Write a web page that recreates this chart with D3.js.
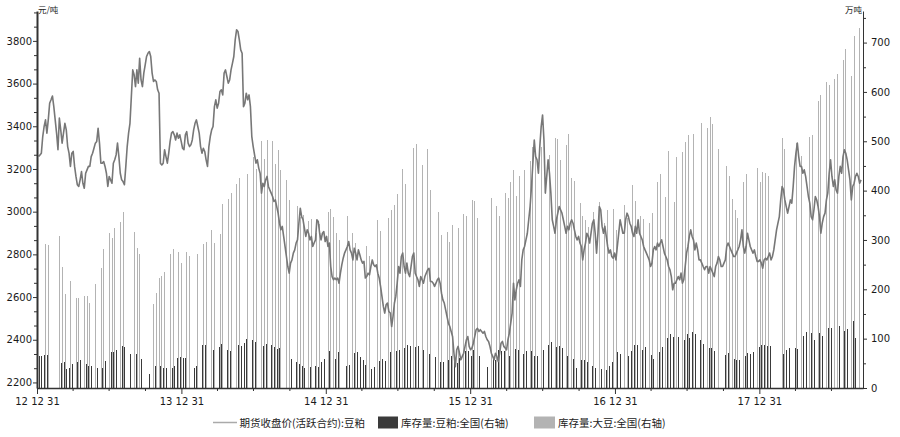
<!DOCTYPE html>
<html><head><meta charset="utf-8">
<script src="https://cdn.jsdelivr.net/npm/d3@7"></script>
<style>body{margin:0;background:#fff}svg{display:block}</style>
</head><body><svg id="c" width="900" height="437"></svg>
<script>
// ---------- data ----------
const xDomain = ["2012-12-31", "2018-09-19"];
const barStart = "2013-01-04";      // week 0
const priceStart = "2013-01-04";    // first close
const priceStepHours = 84;          // two samples per week

const priceValues = [
3258,3266,3274,3352,3399,3430,3368,3430,3508,3524,
3542,3492,3430,3368,3290,3438,3383,3321,3368,3414,
3383,3305,3274,3212,3274,3282,3212,3165,3126,3118,
3149,3188,3133,3110,3180,3196,3212,3212,3258,3274,
3297,3321,3329,3391,3321,3227,3227,3235,3212,3180,
3118,3165,3149,3133,3227,3243,3266,3321,3258,3180,
3149,3141,3126,3212,3305,3368,3414,3539,3664,3641,
3586,3664,3602,3719,3617,3586,3649,3688,3727,3742,
3750,3727,3649,3610,3617,3610,3571,3555,3227,3219,
3227,3290,3258,3227,3274,3329,3368,3375,3360,3336,
3368,3344,3360,3329,3297,3290,3360,3375,3321,3305,
3313,3336,3383,3414,3430,3399,3368,3305,3274,3297,
3282,3243,3212,3305,3352,3383,3399,3492,3524,3485,
3508,3563,3571,3547,3649,3664,3633,3602,3617,3664,
3695,3727,3805,3852,3844,3805,3758,3742,
3492,3508,3555,3524,3547,3492,3352,3305,3266,3227,
3243,3204,3180,3087,3133,3118,3149,3165,3118,3102,
3087,3071,3048,3055,3024,2993,2946,2915,2931,2884,
2837,2790,2743,2712,2759,2774,2806,2821,2853,2868,
2946,3016,2977,2962,2923,
2884,2915,2899,2868,2884,2837,2853,
2868,2962,2954,2899,2868,2899,2907,2860,2884,2837,2853,
2743,2696,2681,2689,2681,2689,2665,2712,2751,2782,2806,2821,2837,2860,2821,2806,2774,2829,2806,2774,2821,2798,2774,
2759,2767,2689,2696,2712,2704,2743,2774,2751,2743,2751,2712,2689,2650,2603,2556,2525,2564,2572,2532,2525,2462,2509,2572,2603,
2665,2743,2712,2790,2806,2743,2712,2759,2712,2696,2743,2790,2806,2712,2696,2681,2650,2696,2681,2665,2696,2712,2728,2735,
2673,2673,2665,2650,2665,2681,2689,2665,2618,2587,2572,2540,2509,2478,2462,2439,2415,
2337,2274,
2353,2369,2337,2306,2322,2337,2369,2400,2415,2369,2353,
2361,2384,2415,2447,2454,2439,2447,2439,2431,2439,2415,2400,2392,2369,2337,2322,2306,
2337,2322,2298,2337,2384,2392,2369,2361,2353,2400,2431,2478,2525,2665,2587,2634,2665,2681,2650,2774,2821,
2837,2868,2899,2962,3024,3118,3227,3336,3258,3243,3180,3305,3399,3453,3336,3087,3165,3243,3180,3087,2962,2931,2899,2962,2993,3024,3009,2993,2962,2931,2899,
2931,2915,2946,2962,2946,2915,2884,2868,2884,
2853,2837,2774,2821,2853,2899,2884,2853,2899,2946,
2962,2899,2806,2899,3024,3009,2931,2899,2931,2884,2837,2806,2821,2790,2782,2806,2774,2837,2899,2962,
2931,2899,2899,2962,2993,2977,2946,2931,2899,2884,2931,2899,2962,2899,2884,2868,2837,2821,2806,2790,
2774,2743,2759,2821,2837,2821,2853,2837,2853,2868,2837,2806,2790,2774,2743,2728,2696,2634,2665,2665,
2681,2696,2681,2712,2665,2681,2743,2806,2837,2884,2915,2884,2868,2821,2853,2821,2774,2774,2759,2743,
2728,2743,2743,2712,2743,2728,2712,2696,2743,2759,2790,2774,2743,2743,2759,2774,2837,2853,2837,2821,2806,
2790,2790,
2806,2821,2837,2868,2915,2837,2806,2837,2899,2868,2837,2821,2806,2821,
2790,2767,2767,2774,2759,2735,2774,2782,2774,2790,2806,2774,2790,2821,2868,2915,2946,2977,3055,3118,
3102,3055,3024,2993,3024,3055,3040,3118,3212,3274,3321,3258,3212,
3212,3180,3196,3165,3118,3071,3040,2977,2962,3009,3071,3055,3024,2977,2899,2946,2977,2993,3055,3087,
3180,3243,3165,3118,3149,3102,3087,
3165,3212,3180,3258,3290,3274,3243,3196,3149,3055,3118,3133,3165,3180,3165,3133,3149
];

// 库存量:豆粕:全国 (week index from barStart, value 万吨)
const mealWeeks = [0,1,2,3,8,9,10,11,12,14,15,17,18,19,21,23,24,26,27,28,30,31,33,35,37,40,42,44,45,46,48,49,
50,51,52,53,56,57,59,60,63,65,66,68,69,72,73,74,75,77,78,81,82,84,85,86,87,91,93,94,95,96,98,
100,101,102,103,105,107,108,111,112,114,115,116,117,118,120,121,123,124,125,127,129,130,132,133,134,136,137,139,141,143,145,146,148,149,
150,151,152,154,155,156,157,159,162,164,165,166,167,168,170,172,173,175,176,178,179,180,182,184,185,187,188,189,191,193,194,196,197,198,200,
201,203,205,206,207,209,210,213,214,215,216,218,219,221,222,224,225,227,228,229,231,233,234,235,236,237,239,240,242,243,244,248,249,
251,252,253,255,256,257,258,260,261,262,263,264,269,270,271,273,274,276,277,279,280,282,283,285,286,289,291,292,294,295];
const mealValues = [64,65,67,67,51,52,38,41,49,52,56,49,44,45,40,41,55,72,72,76,86,83,68,68,59,28,44,45,41,41,40,44,
61,63,61,61,41,45,87,87,78,83,90,76,74,87,86,91,99,98,94,86,90,88,84,80,82,59,53,49,44,41,42,
44,43,53,59,74,59,72,44,47,71,72,63,56,47,38,43,55,59,55,72,74,76,82,87,86,83,86,78,68,63,53,53,57,64,
63,51,60,74,74,65,78,65,43,59,57,76,74,75,65,79,76,68,74,74,65,64,76,87,94,84,86,82,64,59,41,56,57,52,45,
41,38,37,45,53,72,68,65,75,87,87,78,83,67,59,72,83,102,110,103,103,97,110,102,114,110,97,90,82,82,75,67,71,
59,57,57,64,70,68,72,83,87,87,86,86,68,76,82,82,80,106,114,111,97,111,106,122,121,125,115,119,136,102];

// 库存量:大豆:全国
const soyWeeks = [2,3,7,8,9,11,13,14,16,17,18,20,22,23,25,26,27,29,30,34,35,36,41,42,43,44,45,47,48,
50,51,53,54,57,59,60,62,63,65,66,68,69,71,72,75,77,78,80,81,82,84,85,86,87,89,90,93,94,95,97,98,
100,101,104,105,106,107,108,111,113,114,118,119,122,123,126,127,128,129,131,132,135,136,138,140,141,144,145,147,148,149,
151,153,154,156,157,158,163,165,166,168,169,170,171,172,173,175,177,178,179,181,184,186,187,188,190,191,192,193,195,196,197,198,
200,202,204,205,207,208,211,212,214,215,217,218,220,221,223,224,226,227,229,230,232,233,234,236,239,241,242,243,245,248,249,250,
251,252,254,255,259,260,261,262,263,268,269,273,275,278,279,281,282,284,285,287,288,290,291,293,294,296];
const soyValues = [292,290,308,246,190,217,182,182,186,187,173,211,244,281,315,303,325,337,357,317,283,271,171,192,222,226,236,272,281,
275,254,275,268,271,291,295,321,293,312,373,384,396,414,426,434,468,443,500,465,502,500,454,483,441,421,381,368,346,350,338,342,
314,333,357,362,346,314,300,349,314,294,288,267,341,318,344,360,371,394,443,414,487,495,452,485,402,356,311,317,295,330,
325,353,349,381,379,345,385,368,349,395,385,418,441,389,429,441,461,489,477,489,473,506,504,462,492,514,426,419,375,348,341,327,
357,376,334,361,362,321,371,344,412,379,349,342,335,354,418,434,388,481,376,468,479,499,512,515,537,527,549,535,485,449,429,384,
360,345,418,433,445,418,438,435,430,507,485,497,470,508,513,582,593,620,614,627,636,665,687,632,713,729];

const leftTicks = [2200,2400,2600,2800,3000,3200,3400,3600,3800];
const rightTicks = [0,100,200,300,400,500,600,700];
const yearEndTicks = ["2012-12-31","2013-12-31","2014-12-31","2015-12-31","2016-12-31","2017-12-31"];
const leftUnit = "元/吨", rightUnit = "万吨";
const seriesNames = ["期货收盘价(活跃合约):豆粕", "库存量:豆粕:全国(右轴)", "库存量:大豆:全国(右轴)"];

// ---------- drawing ----------
const parse = d3.timeParse("%Y-%m-%d");
const svg = d3.select("#c");
const P = {left:37, right:863, top:11, bottom:388};
const x = d3.scaleTime().domain(xDomain.map(parse)).range([P.left, P.right]);
const yL = d3.scaleLinear().domain([2174, 3940]).range([P.bottom, P.top]);
const yR = d3.scaleLinear().domain([0, 764]).range([P.bottom, P.top]);
const b0 = parse(barStart), p0 = parse(priceStart);
const weekDate = w => d3.timeDay.offset(b0, 7 * w);

const soy = soyWeeks.map((w, i) => ({d: weekDate(w), v: soyValues[i]}));
const meal = mealWeeks.map((w, i) => ({d: weekDate(w), v: mealValues[i]}));
const price = priceValues.map((v, i) => ({d: d3.timeHour.offset(p0, priceStepHours * i), v}));

svg.append("g").attr("shape-rendering", "crispEdges").selectAll("rect").data(soy).join("rect")
  .attr("x", d => Math.round(x(d.d)) + 1).attr("width", 1)
  .attr("y", d => yR(d.v)).attr("height", d => yR(0) - yR(d.v)).attr("fill", "#b3b3b3");
svg.append("g").attr("shape-rendering", "crispEdges").selectAll("rect").data(meal).join("rect")
  .attr("x", d => Math.round(x(d.d))).attr("width", 1)
  .attr("y", d => yR(d.v)).attr("height", d => yR(0) - yR(d.v)).attr("fill", "#3a3a3a");

svg.append("path").datum(price)
  .attr("d", d3.line().x(d => x(d.d)).y(d => yL(d.v)))
  .attr("fill", "none").attr("stroke", "#777").attr("stroke-width", 1.6).attr("stroke-linejoin", "round");

const font = "DejaVu Sans";
function styleAxis(g, w) {
  g.selectAll("path.domain").attr("stroke", "#333").attr("stroke-width", w || 1);
  g.selectAll(".tick line").attr("stroke", "#333");
  g.selectAll("text").attr("font-family", font).attr("font-size", 10).attr("fill", "#1a1a1a");
}

// minor ticks
const leftMinor = d3.range(0, 27).map(k => 2200 + k * 200 / 3).filter(v => v <= 3940 && v % 200 !== 0);
const rightMinor = d3.range(50, 764, 100);
const quarterTicks = [];
for (let yr = 2013; yr <= 2018; yr++) ["03-31","06-30","09-30"].forEach(md => {
  const d = parse(yr + "-" + md); if (d <= x.domain()[1]) quarterTicks.push(d);
});

svg.append("g").attr("transform", `translate(${P.left},0)`)
  .call(d3.axisLeft(yL).tickValues(leftMinor).tickSize(3).tickSizeOuter(0).tickFormat(""))
  .call(g => g.select(".domain").remove()).call(styleAxis);
svg.append("g").attr("transform", `translate(${P.right},0)`)
  .call(d3.axisRight(yR).tickValues(rightMinor).tickSize(3).tickSizeOuter(0).tickFormat(""))
  .call(g => g.select(".domain").remove()).call(styleAxis);
svg.append("g").attr("transform", `translate(0,${P.bottom})`)
  .call(d3.axisBottom(x).tickValues(quarterTicks).tickSize(3).tickSizeOuter(0).tickFormat(""))
  .call(g => g.select(".domain").remove()).call(styleAxis);

svg.append("g").attr("transform", `translate(${P.right},0)`)
  .call(d3.axisRight(yR).tickValues(rightTicks).tickSize(4).tickSizeOuter(0).tickPadding(4))
  .call(g => styleAxis(g, 1));
svg.append("g").attr("transform", `translate(0,${P.bottom})`)
  .call(d3.axisBottom(x).tickValues(yearEndTicks.map(parse)).tickSize(6).tickSizeOuter(0).tickPadding(4)
    .tickFormat(d3.timeFormat("%y %m %d")))
  .call(g => styleAxis(g, 1.4));
svg.append("g").attr("transform", `translate(${P.left},0)`)
  .call(d3.axisLeft(yL).tickValues(leftTicks).tickSize(4).tickSizeOuter(0).tickPadding(1).tickFormat(d3.format("d")))
  .call(g => styleAxis(g, 2));

// unit labels
const cjk = "'Noto Sans CJK SC', 'Noto Sans', sans-serif";
svg.append("text").attr("x", 38).attr("y", 13).text(leftUnit)
  .attr("font-family", cjk).attr("font-size", 8.5).attr("fill", "#222");
svg.append("text").attr("x", 862).attr("y", 13).attr("text-anchor", "end").text(rightUnit)
  .attr("font-family", cjk).attr("font-size", 8.5).attr("fill", "#222");

// legend
const lg = svg.append("g").attr("font-family", cjk).attr("font-size", 10.5).attr("fill", "#222");
lg.append("line").attr("x1", 213).attr("x2", 237).attr("y1", 422.5).attr("y2", 422.5)
  .attr("stroke", "#aaa").attr("stroke-width", 1.5);
lg.append("text").attr("x", 239.5).attr("y", 426.5).text(seriesNames[0]);
lg.append("rect").attr("x", 378).attr("y", 416.5).attr("width", 20).attr("height", 12).attr("fill", "#3a3a3a");
lg.append("text").attr("x", 401).attr("y", 426.5).text(seriesNames[1]);
lg.append("rect").attr("x", 534).attr("y", 416.5).attr("width", 21).attr("height", 12).attr("fill", "#b3b3b3");
lg.append("text").attr("x", 558).attr("y", 426.5).text(seriesNames[2]);
</script>
</body></html>
